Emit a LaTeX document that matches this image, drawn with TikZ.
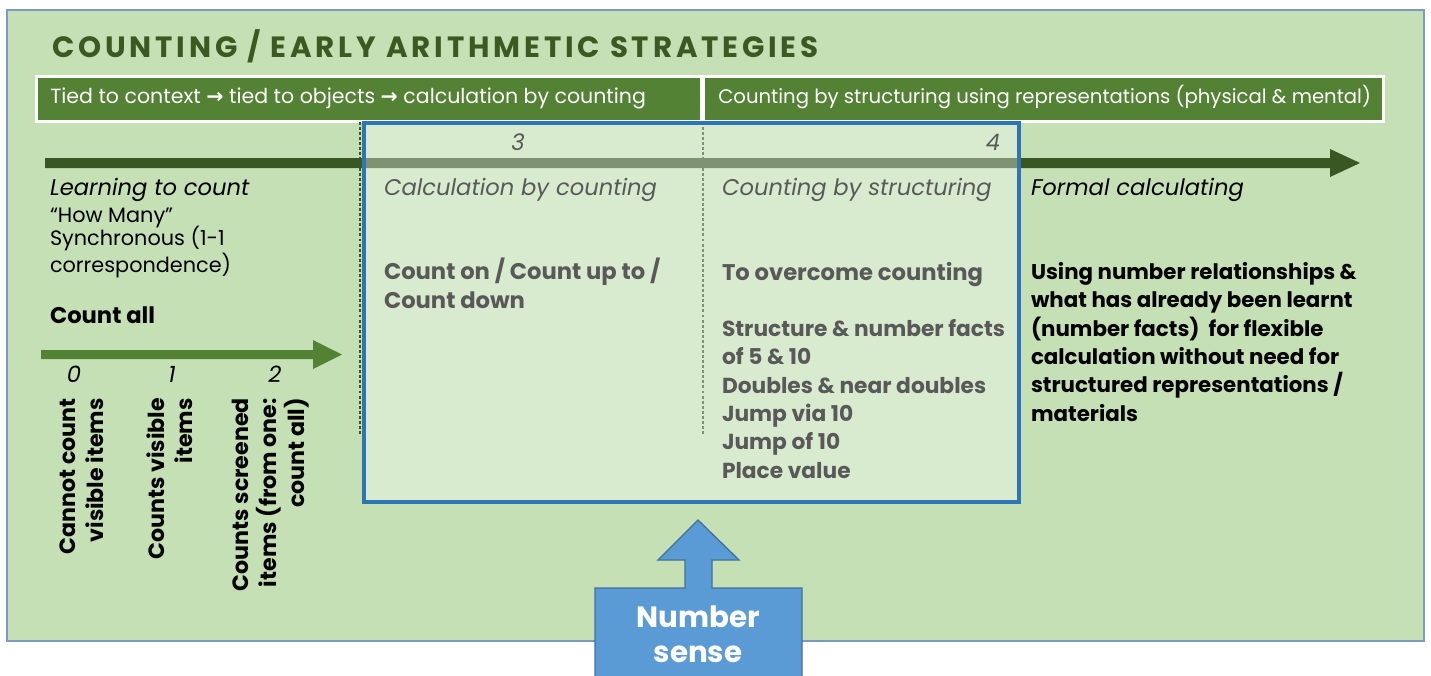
\documentclass[tikz,border=0pt]{standalone}
\usepackage{fontspec}
\setmainfont{Poppins}
\newfontfamily\symfont{DejaVu Sans}
\definecolor{paneGreen}{HTML}{C5E0B4}
\definecolor{paneEdge}{HTML}{7B9BC4}
\definecolor{titleGreen}{HTML}{3A5A22}
\definecolor{barGreen}{HTML}{548235}
\definecolor{axisGreen}{HTML}{385723}
\definecolor{frameBlue}{HTML}{2E75B6}
\definecolor{softGray}{HTML}{595959}
\definecolor{senseFill}{HTML}{5B9BD5}
\definecolor{senseEdge}{HTML}{41719C}
\newcommand{\toarrow}{{\symfont\bfseries\char"2192}}
\begin{document}
\begin{tikzpicture}[x=0.75pt,y=-0.75pt,
  % multi-line nodes are anchored at the baseline of their last line
  txt/.style={inner sep=0pt, outer sep=0pt, anchor=base west, align=left},
  body/.style={txt, font=\fontsize{15.6pt}{18pt}\selectfont},
  bodybold/.style={txt, font=\fontsize{17pt}{21.2pt}\selectfont\bfseries},
  listbold/.style={txt, font=\fontsize{16.3pt}{21.2pt}\selectfont\bfseries},
  stage/.style={txt, font=\fontsize{17pt}{20pt}\selectfont\itshape},
  digit/.style={inner sep=0pt, anchor=base, font=\fontsize{17pt}{20pt}\selectfont\itshape},
  bartext/.style={inner sep=0pt, anchor=base west, text=white},
  vertical/.style={inner sep=0pt, rotate=90, anchor=north east, align=right,
    font=\fontsize{16.6pt}{21pt}\selectfont\bfseries},
  dotline/.style={axisGreen, line width=2.1pt, dash pattern=on 2.2pt off 1.6pt}
]
\useasboundingbox (0,0) rectangle (1431,675);
\clip (0,0) rectangle (1431,675);

% background panel
\draw[fill=paneGreen, draw=paneEdge, line width=1.2pt] (7,10) rectangle (1424,641);

% title
\node[inner sep=0pt, anchor=base west, text=titleGreen,
  font=\fontsize{22pt}{26pt}\selectfont\bfseries\addfontfeature{LetterSpace=13}]
  (title) at (52,57) {COUNTING / EARLY ARITHMETIC STRATEGIES};

% phase bar
\fill[white] (35,75) rectangle (1385,123);
\fill[barGreen] (38,78) rectangle (700,120);
\fill[barGreen] (705,78) rectangle (1382,120);
\node[bartext, font=\fontsize{15.4pt}{18pt}\selectfont] (phaseA) at (50,103)
  {Tied to context \toarrow\ tied to objects \toarrow\ calculation by counting};
\node[bartext, font=\fontsize{14.75pt}{18pt}\selectfont] (phaseB) at (718,103)
  {Counting by structuring using representations (physical \& mental)};

% main progression arrow
\fill[axisGreen] (45,158) -- (1330,158) -- (1330,149) -- (1360,163)
  -- (1330,177) -- (1330,168) -- (45,168) -- cycle;

% stage separators
\draw[dotline] (360,122) -- (360,436);
\draw[dotline] (703,122) -- (703,436);

% highlighted stages 3 and 4
\draw[draw=frameBlue, line width=3pt, fill=white, fill opacity=0.36]
  (364,123) rectangle (1019,502);

% stage numbers
\node[digit, text=softGray] (n3) at (518,150) {3};
\node[digit, text=softGray] (n4) at (993,150) {4};

% learning to count
\node[stage] (learn) at (50,195) {Learning to count};
\node[body] (howmany) at (50,222) {“How Many”};
\node[body] (sync) at (50,272) {Synchronous (1-1\\correspondence)};
\node[bodybold] (countall) at (50,323) {Count all};

% count-all arrow and levels
\fill[barGreen] (41,350) -- (313,350) -- (313,340) -- (342,354.5)
  -- (313,369) -- (313,359) -- (41,359) -- cycle;
\node[digit] (d0) at (74,382) {0};
\node[digit] (d1) at (172,382) {1};
\node[digit] (d2) at (275,382) {2};
\node[vertical] (v0) at (60,398) {Cannot count\\visible items};
\node[vertical] (v1) at (147,398) {Counts visible\\items};
\node[vertical] (v2) at (232,398) {Counts screened\\items (from one:\\count all)};

% calculation by counting
\node[stage, text=softGray] (calc) at (384,195) {Calculation by counting};
\node[bodybold, text=softGray] (counton) at (384,308) {Count on / Count up to /\\Count down};

% counting by structuring
\node[stage, text=softGray] (struct) at (722,195) {Counting by structuring};
\node[bodybold, text=softGray] (overcome) at (722,280) {To overcome counting};
\node[listbold, text=softGray] (facts) at (722,478) {Structure \& number facts\\of 5 \& 10\\Doubles \& near doubles\\Jump via 10\\Jump of 10\\Place value};

% formal calculating
\node[stage] (formal) at (1031,195) {Formal calculating};
\node[txt, font=\fontsize{16pt}{21.2pt}\selectfont\bfseries] (relations) at (1031,421) {Using number relationships \&\\what has already been learnt\\(number facts)\ \ for flexible\\calculation without need for\\structured representations /\\materials};

% number sense callout
\draw[fill=senseFill, draw=senseEdge, line width=1pt]
  (595,588) -- (685,588) -- (685,560) -- (658,560) -- (698,520) -- (739,560)
  -- (712,560) -- (712,588) -- (802,588) -- (802,690) -- (595,690) -- cycle;
\node[inner sep=0pt, anchor=base, align=center, text=white,
  font=\fontsize{22pt}{26.2pt}\selectfont\bfseries] (sense) at (698,662) {Number\\sense};
\end{tikzpicture}
\end{document}
